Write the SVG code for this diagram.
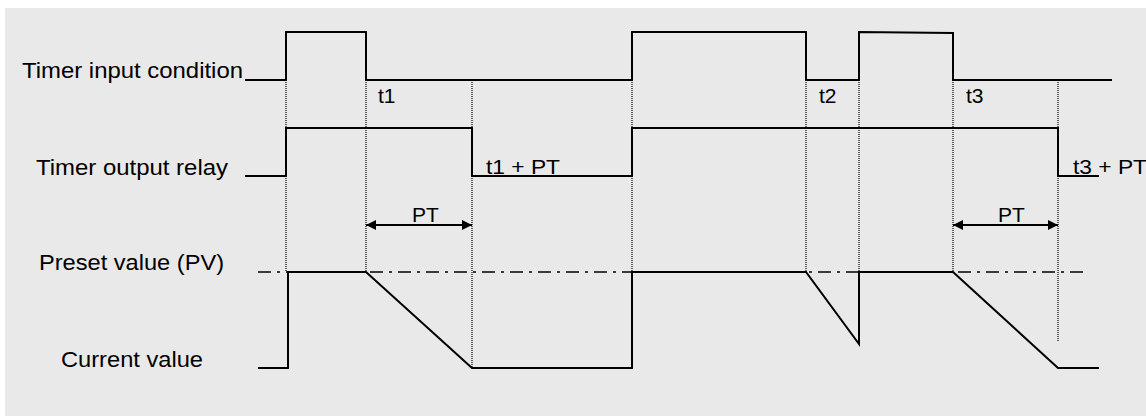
<svg xmlns="http://www.w3.org/2000/svg" width="1146" height="416" viewBox="0 0 1146 416">
<defs>
<marker id="ah" viewBox="0 0 10 10" refX="10" refY="5" markerWidth="10" markerHeight="10" markerUnits="userSpaceOnUse" orient="auto-start-reverse">
<path d="M0,0 L10,5 L0,10 Z" fill="#000"/>
</marker>
</defs>
<style>
.lbl{font-family:"Liberation Sans",Arial,sans-serif;font-size:21px;fill:#000}
.big{font-size:22px}
.sig{fill:none;stroke:#000;stroke-width:2;stroke-linejoin:miter}
.dot{fill:none;stroke:#000;stroke-width:1.2;stroke-dasharray:1,1}
.dd{fill:none;stroke:#000;stroke-width:1.6;stroke-dasharray:13,6,3,6}
.arr{fill:none;stroke:#000;stroke-width:2}
</style>
<rect x="5" y="8" width="1141" height="408" fill="#e9e9e9"/>
<g id="guides">
<line class="dot" x1="286" y1="82" x2="286" y2="272"/>
<line class="dot" x1="366" y1="82" x2="366" y2="272"/>
<line class="dot" x1="472" y1="82" x2="472" y2="368"/>
<line class="dot" x1="632" y1="82" x2="632" y2="272"/>
<line class="dot" x1="806" y1="82" x2="806" y2="272"/>
<line class="dot" x1="859" y1="82" x2="859" y2="272"/>
<line class="dot" x1="953" y1="82" x2="953" y2="272"/>
<line class="dot" x1="1058" y1="82" x2="1058" y2="342"/>
</g>
<g id="preset-line">
<line class="dd" x1="258" y1="272" x2="1083" y2="272"/>
</g>
<g id="input">
<text class="lbl big" x="22" y="78" textLength="221" lengthAdjust="spacingAndGlyphs">Timer input condition</text>
<path class="sig" d="M245,80 H286 V32 H366 V80 H632 V32 H806 V80 H859 V32 L953,33 V80 H1112"/>
<text class="lbl" x="378" y="103">t1</text>
<text class="lbl" x="819" y="103">t2</text>
<text class="lbl" x="966" y="103">t3</text>
</g>
<g id="output">
<text class="lbl big" x="36" y="175" textLength="192" lengthAdjust="spacingAndGlyphs">Timer output relay</text>
<path class="sig" d="M245,176 H286 V128 H472 V176 H632 V128 H1058 V176 H1099"/>
<text class="lbl" x="486" y="174" textLength="74" lengthAdjust="spacingAndGlyphs">t1 + PT</text>
<text class="lbl" x="1073" y="174" textLength="74" lengthAdjust="spacingAndGlyphs">t3 + PT</text>
</g>
<g id="preset">
<text class="lbl big" x="39" y="270" textLength="185" lengthAdjust="spacingAndGlyphs">Preset value (PV)</text>
</g>
<g id="current">
<text class="lbl big" x="61" y="367" textLength="142" lengthAdjust="spacingAndGlyphs">Current value</text>
<path class="sig" d="M258,368 H288 V272 H366 L472,368 H632 V272 H806 L859,344 V272 H953 L1058,368 H1099"/>
</g>
<g id="connectors">
<line class="arr" x1="366" y1="225" x2="472" y2="225" marker-start="url(#ah)" marker-end="url(#ah)"/>
<line class="arr" x1="953" y1="225" x2="1058" y2="225" marker-start="url(#ah)" marker-end="url(#ah)"/>
<text class="lbl" x="412" y="222">PT</text>
<text class="lbl" x="998" y="222">PT</text>
</g>
</svg>
